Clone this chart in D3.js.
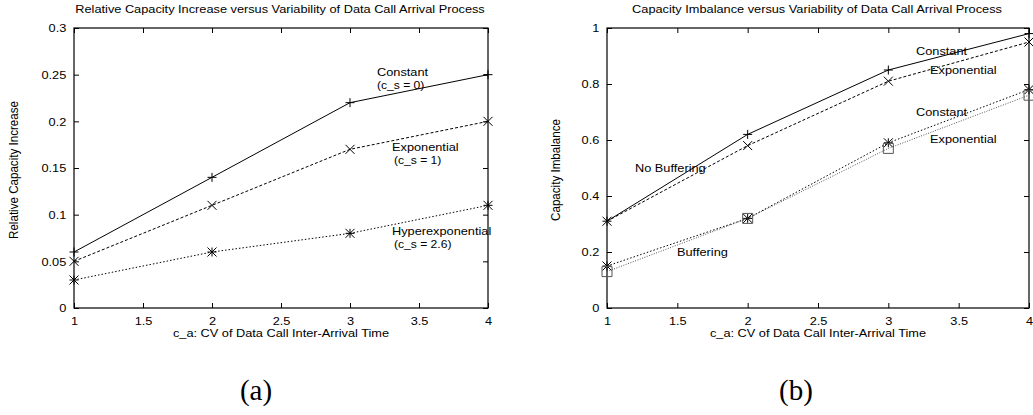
<!DOCTYPE html>
<html>
<head>
<meta charset="utf-8">
<script src="https://cdn.jsdelivr.net/npm/d3@7"></script>
<style>
  body { margin: 0; background: #fff; }
  svg text { font-family: "Liberation Sans", Arial, sans-serif; fill: #000; }
</style>
</head>
<body>
<svg id="fig" width="1033" height="415"></svg>
<script>
// x values shared by both panels
var caValues = [1, 2, 3, 4];
var xTicks = [1, 1.5, 2, 2.5, 3, 3.5, 4];

// panel (a)
var aConstant = [0.06, 0.14, 0.22, 0.25];
var aExponential = [0.05, 0.11, 0.17, 0.20];
var aHyper = [0.03, 0.06, 0.08, 0.11];
var aYTicks = [0, 0.05, 0.1, 0.15, 0.2, 0.25, 0.3];

// panel (b)
var bNoBufConstant = [0.31, 0.62, 0.85, 0.98];
var bNoBufExponential = [0.31, 0.58, 0.81, 0.95];
var bBufConstant = [0.15, 0.32, 0.59, 0.78];
var bBufExponential = [0.13, 0.32, 0.57, 0.76];
var bYTicks = [0, 0.2, 0.4, 0.6, 0.8, 1];

var svg = d3.select('#fig');
var FS = 11.6, SX = 1.1;   // the original figure is slightly stretched horizontally

function label(g, x, y, str, anchor, rot, size) {
  return g.append('text')
    .attr('transform', 'translate(' + x + ',' + y + ') scale(' + SX + ',1)' + (rot ? ' rotate(' + rot + ')' : ''))
    .attr('text-anchor', anchor || 'start')
    .attr('font-size', size || FS)
    .text(str);
}

function marker(g, type, x, y, color) {
  var s = 4.5;
  var p = d3.path();
  if (type === 'plus' || type === 'star') {
    p.moveTo(x - s, y); p.lineTo(x + s, y);
    p.moveTo(x, y - s); p.lineTo(x, y + s);
  }
  if (type === 'cross' || type === 'star') {
    p.moveTo(x - s, y - s); p.lineTo(x + s, y + s);
    p.moveTo(x - s, y + s); p.lineTo(x + s, y - s);
  }
  if (type === 'square') {
    p.rect(x - 5, y - 5, 10, 10);
  }
  g.append('path').attr('d', p.toString())
    .attr('fill', 'none').attr('stroke', color || '#000').attr('stroke-width', 1);
}

function drawPanel(cfg) {
  var g = svg.append('g');
  var x = d3.scaleLinear().domain([1, 4]).range([cfg.left, cfg.right]);
  var y = d3.scaleLinear().domain(cfg.yDomain).range([308, 28]);

  // frame
  g.append('rect')
    .attr('x', cfg.left).attr('y', 28)
    .attr('width', cfg.right - cfg.left).attr('height', 280)
    .attr('fill', 'none').attr('stroke', '#000').attr('stroke-width', 1.2);

  // axes, ticks pointing inward on all four sides
  var fmt = function (d) { return String(+d.toFixed(2)); };
  g.append('g').attr('transform', 'translate(' + cfg.left + ',0)')
    .call(d3.axisLeft(y).tickValues(cfg.yTicks).tickSizeInner(-5).tickSizeOuter(0).tickPadding(7).tickFormat(fmt));
  g.append('g').attr('transform', 'translate(' + cfg.right + ',0)')
    .call(d3.axisRight(y).tickValues(cfg.yTicks).tickSizeInner(-5).tickSizeOuter(0).tickFormat(''));
  g.append('g').attr('transform', 'translate(0,308)')
    .call(d3.axisBottom(x).tickValues(xTicks).tickSizeInner(-5).tickSizeOuter(0).tickPadding(9).tickFormat(fmt));
  g.append('g').attr('transform', 'translate(0,28)')
    .call(d3.axisTop(x).tickValues(xTicks).tickSizeInner(-5).tickSizeOuter(0).tickFormat(''));
  g.selectAll('.domain').remove();
  g.selectAll('.tick line').attr('stroke', '#000');
  g.selectAll('.tick text')
    .attr('font-size', FS)
    .attr('font-family', '"Liberation Sans", Arial, sans-serif')
    .attr('transform', 'scale(' + SX + ',1)');

  var line = d3.line().x(function (d, i) { return x(caValues[i]); }).y(function (d) { return y(d); });

  cfg.series.forEach(function (s) {
    g.append('path').datum(s.values)
      .attr('d', line)
      .attr('fill', 'none')
      .attr('stroke', s.color || '#000')
      .attr('stroke-width', 1)
      .attr('stroke-dasharray', s.dash);
    s.values.forEach(function (v, i) { marker(g, s.marker, x(caValues[i]), y(v), s.color); });
  });

  cfg.labels.forEach(function (l) { label(g, l.x, l.y, l.text, 'start', 0, l.size); });

  label(g, cfg.titleX, 13, cfg.title, 'middle');
  label(g, (cfg.left + cfg.right) / 2, 337, 'c_a: CV of Data Call Inter-Arrival Time', 'middle');
  label(g, cfg.yTitleX, 170, cfg.yTitle, 'middle', -90);

  g.append('text').attr('x', cfg.capX).attr('y', 400)
    .attr('text-anchor', 'middle').attr('font-size', 29)
    .style('font-family', '"Liberation Serif", "DejaVu Serif", serif')
    .text(cfg.caption);
}

drawPanel({
  left: 74, right: 488, yDomain: [0, 0.3], yTicks: aYTicks,
  title: 'Relative Capacity Increase versus Variability of Data Call Arrival Process',
  titleX: 280, yTitle: 'Relative Capacity Increase', yTitleX: 18,
  caption: '(a)', capX: 256,
  series: [
    { values: aConstant, marker: 'plus', dash: null },
    { values: aExponential, marker: 'cross', dash: '3,2' },
    { values: aHyper, marker: 'star', dash: '1.5,2' }
  ],
  labels: [
    { x: 377, y: 76, text: 'Constant' },
    { x: 377, y: 89, text: '(c_s = 0)', size: 11 },
    { x: 392, y: 151, text: 'Exponential' },
    { x: 394, y: 164, text: '(c_s = 1)', size: 11 },
    { x: 392, y: 235, text: 'Hyperexponential' },
    { x: 394, y: 248, text: '(c_s = 2.6)', size: 11 }
  ]
});

drawPanel({
  left: 607, right: 1029, yDomain: [0, 1], yTicks: bYTicks,
  title: 'Capacity Imbalance versus Variability of Data Call Arrival Process',
  titleX: 817, yTitle: 'Capacity Imbalance', yTitleX: 560,
  caption: '(b)', capX: 796,
  series: [
    { values: bNoBufConstant, marker: 'plus', dash: null },
    { values: bNoBufExponential, marker: 'cross', dash: '3,2' },
    { values: bBufConstant, marker: 'star', dash: '1.5,2' },
    { values: bBufExponential, marker: 'square', dash: '1,1.5', color: '#555' }
  ],
  labels: [
    { x: 916, y: 55, text: 'Constant' },
    { x: 930, y: 74, text: 'Exponential' },
    { x: 916, y: 116, text: 'Constant' },
    { x: 930, y: 143, text: 'Exponential' },
    { x: 635, y: 172, text: 'No Buffering' },
    { x: 677, y: 256, text: 'Buffering' }
  ]
});
</script>
</body>
</html>
